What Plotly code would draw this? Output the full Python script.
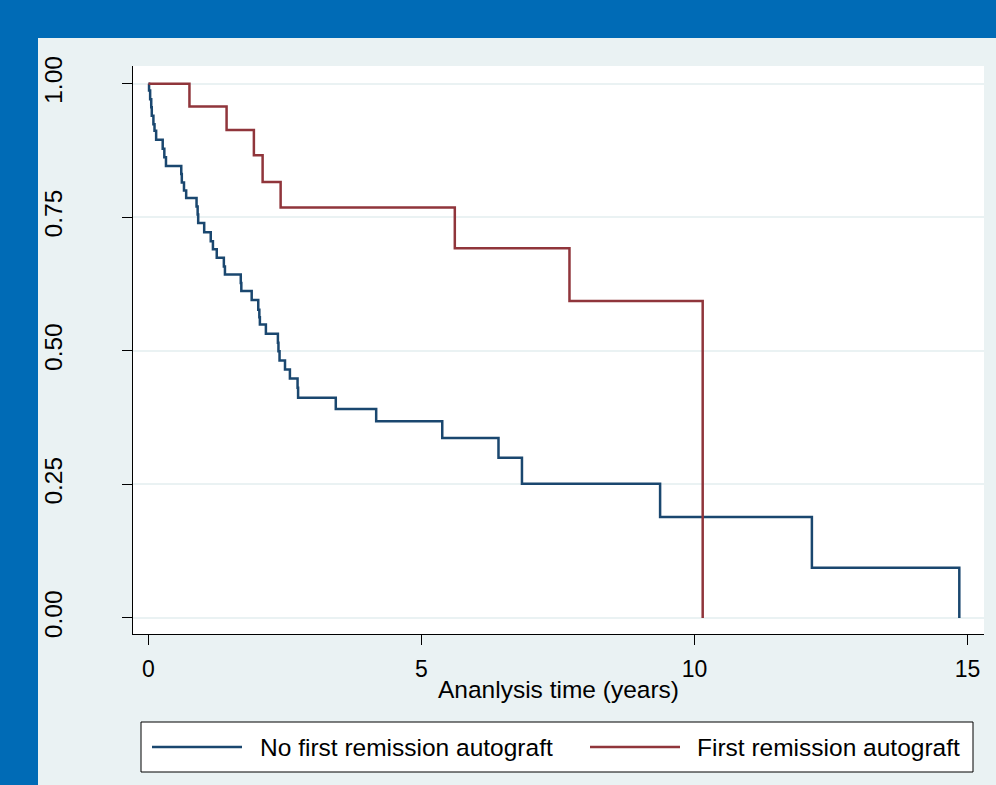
import plotly.graph_objects as go

# ---- data ----
series_names = ["No first remission autograft", "First remission autograft"]

no_auto_time = [0.00, 0.01, 0.03, 0.05, 0.06, 0.09, 0.11, 0.14, 0.26, 0.29, 0.32,
                0.60, 0.61, 0.65, 0.69, 0.88, 0.90, 0.91, 1.02, 1.14, 1.18, 1.25,
                1.38, 1.40, 1.69, 1.70, 1.89, 2.01, 2.03, 2.04, 2.15, 2.37, 2.38,
                2.40, 2.50, 2.59, 2.73, 2.74, 3.43, 4.17, 5.38, 6.41, 6.84, 9.37,
                12.15, 14.85]
no_auto_surv = [1.000, 0.987, 0.971, 0.956, 0.940, 0.924, 0.912, 0.895, 0.878, 0.862,
                0.846, 0.831, 0.815, 0.800, 0.786, 0.770, 0.755, 0.739, 0.722, 0.705,
                0.690, 0.674, 0.658, 0.643, 0.627, 0.612, 0.595, 0.577, 0.563, 0.549,
                0.532, 0.515, 0.499, 0.482, 0.465, 0.448, 0.431, 0.412, 0.391, 0.368,
                0.337, 0.300, 0.251, 0.189, 0.094, 0.000]

auto_time = [0.00, 0.75, 1.43, 1.93, 2.09, 2.42, 5.61, 7.71, 10.15]
auto_surv = [1.000, 0.957, 0.913, 0.866, 0.816, 0.768, 0.692, 0.593, 0.000]

x_ticks = [0, 5, 10, 15]
y_ticks = [0, 0.25, 0.5, 0.75, 1.0]
y_tick_labels = ["0.00", "0.25", "0.50", "0.75", "1.00"]
x_title = "Ananlysis time (years)"

colors = ["#1A476F", "#90353B"]
FONT = "Liberation Sans, Arial, Helvetica, sans-serif"
BLUE_BG = "#006BB6"
PANEL = "#EAF2F3"

# ---- geometry (pixels) ----
W, H = 996, 785
L, R, T, B = 133, 12, 66, 151
pw, ph = W - L - R, H - T - B


def px(xp):
    return (xp - L) / pw


def py(yp):
    return (H - B - yp) / ph


fig = go.Figure()
fig.add_trace(go.Scatter(x=no_auto_time, y=no_auto_surv, mode="lines",
                         line=dict(color=colors[0], width=2.5, shape="hv"),
                         name=series_names[0], showlegend=False))
fig.add_trace(go.Scatter(x=auto_time, y=auto_surv, mode="lines",
                         line=dict(color=colors[1], width=2.5, shape="hv"),
                         name=series_names[1], showlegend=False))

shapes = []
# blue frame strips (top and left)
shapes.append(dict(type="rect", xref="paper", yref="paper", layer="below",
                   x0=px(-5), x1=px(W + 5), y0=py(38), y1=py(-5),
                   fillcolor=BLUE_BG, line=dict(width=0)))
shapes.append(dict(type="rect", xref="paper", yref="paper", layer="below",
                   x0=px(-5), x1=px(38), y0=py(H + 5), y1=py(-5),
                   fillcolor=BLUE_BG, line=dict(width=0)))
# legend box
shapes.append(dict(type="rect", xref="paper", yref="paper",
                   x0=px(141), x1=px(973), y0=py(772), y1=py(722),
                   fillcolor="white", line=dict(color="black", width=1)))
annotations = []
leg_y = py(747)
for (lx0, lx1, tx), name, c in zip([(152, 242, 258), (590, 680, 695)], series_names, colors):
    shapes.append(dict(type="line", xref="paper", yref="paper",
                       x0=px(lx0), x1=px(lx1), y0=leg_y, y1=leg_y,
                       line=dict(color=c, width=2.5)))
    annotations.append(dict(xref="paper", yref="paper", x=px(tx), y=leg_y,
                            text=name, showarrow=False, xanchor="left", yanchor="middle",
                            font=dict(family=FONT, size=24.5, color="black")))

fig.update_layout(
    width=W, height=H,
    margin=dict(l=L, r=R, t=T, b=B, autoexpand=False),
    paper_bgcolor=PANEL,
    plot_bgcolor="white",
    shapes=shapes,
    annotations=annotations,
    font=dict(family=FONT, color="black"),
    showlegend=False,
)

fig.update_xaxes(
    range=[(133 - 148.5) / 54.6, (984 - 148.5) / 54.6],
    tickvals=x_ticks, ticktext=[str(v) for v in x_ticks],
    ticks="outside", ticklen=10, tickwidth=1.2, tickcolor="black",
    showline=True, linecolor="black", linewidth=1.2,
    showgrid=False, zeroline=False,
    tickfont=dict(family=FONT, size=23, color="black"),
    ticklabelstandoff=4,
    title=dict(text=x_title, font=dict(family=FONT, size=24.5, color="black"), standoff=0),
)
fig.update_yaxes(
    range=[-0.030, 1.033],
    tickvals=y_ticks, ticktext=y_tick_labels,
    ticks="outside", ticklen=10, tickwidth=1.2, tickcolor="black",
    showline=True, linecolor="black", linewidth=1.2,
    showgrid=True, gridcolor=PANEL, gridwidth=2,
    zeroline=False, tickangle=-90,
    tickfont=dict(family=FONT, size=24.5, color="black"),
    ticklabelstandoff=50,
)

fig.write_html("out.html", config={"displayModeBar": False},
               post_script="document.body.style.margin='0';document.body.style.padding='0';")
